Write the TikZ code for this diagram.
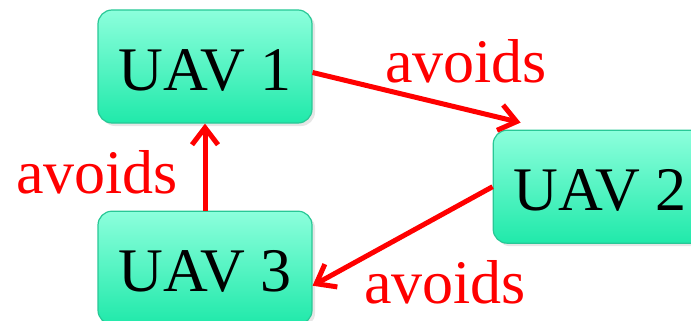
\documentclass[tikz,border=0pt]{standalone}
\usepackage{fontspec}
\setmainfont{Liberation Serif}
\usetikzlibrary{positioning, arrows.meta, shadows}

\definecolor{uavtop}{RGB}{140,255,220}
\definecolor{uavbot}{RGB}{32,233,170}
\definecolor{uavedge}{RGB}{40,200,150}

\tikzset{
  uav/.style={draw=uavedge, line width=1.2pt, rounded corners=14pt,
    top color=uavtop, bottom color=uavbot,
    minimum width=214pt, minimum height=113pt, inner sep=0pt,
    text height=47pt, text depth=0pt,
    font=\fontsize{62}{70}\selectfont,
    drop shadow={shadow xshift=3pt, shadow yshift=-3pt, opacity=0.2}},
  avoid/.style={red, line width=5pt, -{Straight Barb[length=17pt, width=26pt]}},
  lbl/.style={text=red, anchor=base, inner sep=0pt, font=\fontsize{62}{70}\selectfont}
}

\begin{document}
\begin{tikzpicture}[x=1pt, y=1pt]
    \useasboundingbox (0,0) rectangle (691,-321);

    \node[uav] (u1) at (205,-66.5) {UAV 1};
    \node[uav, below=87pt of u1] (u3) {UAV 3};
    \node[uav, below right=6pt and 180pt of u1] (u2) {UAV 2};

    \draw[avoid] ([yshift=-6pt]u1.east) -- ([shift={(28pt,7pt)}]u2.north west);
    \draw[avoid] (u3.north) -- (u1.south);
    \draw[avoid] (u2.west) -- ([yshift=-18pt]u3.east);

    \node[lbl] (a12) at (466,-83) {avoids};
    \node[lbl] (a31) at (97,-193) {avoids};
    \node[lbl] (a23) at (445,-303) {avoids};
\end{tikzpicture}
\end{document}
